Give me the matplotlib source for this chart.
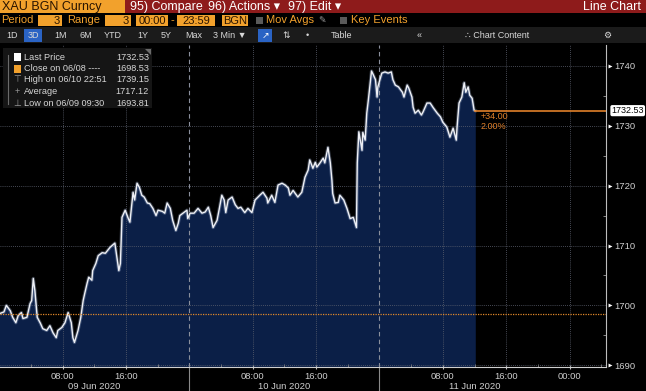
import matplotlib
matplotlib.use("Agg")
import matplotlib.pyplot as plt
import matplotlib.transforms as mtransforms
from matplotlib.patches import Rectangle, Polygon
from matplotlib.ticker import FixedLocator, MultipleLocator

plt.rcParams['font.family'] = ['Liberation Sans', 'DejaVu Sans']

# XAU BGN Curncy, 3-minute bars, hours counted from 09 Jun 2020 00:00
hours = [
    0.0, 0.6, 0.9, 1.4, 1.7, 2.1, 2.4, 2.8, 3.0, 3.5,
    3.9, 4.1, 4.3, 4.5, 4.8, 5.2, 5.5, 6.0, 6.4, 6.8,
    7.2, 7.4, 7.9, 8.3, 8.7, 9.1, 9.3, 9.5, 9.95, 10.3,
    10.6, 10.8, 11.1, 11.3, 11.7, 11.8, 12.2, 12.5, 13.0, 13.4,
    13.7, 14.0, 14.6, 15.1, 15.3, 15.5, 15.9, 16.3, 16.5, 16.9,
    17.1, 17.4, 17.7, 18.0, 18.3, 18.7, 19.0, 19.4, 19.8, 20.05,
    20.6, 20.9, 21.2, 21.6, 21.9, 22.3, 22.6, 22.8, 23.2, 23.7,
    23.8, 24.1, 24.6, 25.1, 25.6, 26.0, 26.4, 26.7, 27.0, 27.5,
    27.75, 28.1, 28.4, 28.6, 28.9, 29.4, 29.8, 30.15, 30.5, 31.0,
    31.4, 31.9, 32.3, 32.9, 33.3, 33.8, 33.9, 34.4, 34.8, 35.2,
    35.7, 36.1, 36.5, 36.7, 37.1, 37.7, 38.2, 38.6, 39.0, 39.2,
    39.6, 39.9, 40.1, 40.5, 40.9, 41.1, 41.5, 41.8, 42.0, 42.1,
    42.4, 42.8, 43.0, 43.5, 43.9, 44.3, 44.7, 45.1, 45.2, 45.4,
    45.8, 45.9, 46.2, 46.4, 46.6, 47.0, 47.2, 47.5, 47.7, 47.8,
    48.3, 48.7, 49.1, 49.5, 49.7, 50.0, 50.4, 50.9, 51.1, 51.5,
    51.7, 52.1, 52.25, 52.5, 52.9, 53.3, 53.5, 54.0, 54.4, 54.8,
    55.3, 55.7, 56.0, 56.5, 56.9, 57.3, 57.7, 57.8, 58.05, 58.4,
    58.7, 58.9, 59.2, 59.4, 59.7, 59.95, 60.1,
]
prices = [
    1698.6, 1698.9, 1700.0, 1699.1, 1698.0, 1697.1, 1698.3, 1698.8, 1697.8, 1698.0,
    1700.3, 1700.8, 1704.5, 1702.5, 1698.0, 1697.0, 1696.1, 1695.8, 1696.6, 1695.4,
    1694.6, 1695.8, 1696.3, 1697.1, 1698.8, 1697.1, 1694.6, 1693.8, 1695.8, 1698.0,
    1700.8, 1702.0, 1703.7, 1704.7, 1704.2, 1705.8, 1707.0, 1708.3, 1708.8, 1708.7,
    1709.2, 1709.7, 1710.4, 1705.8, 1707.0, 1714.7, 1715.9, 1714.5, 1713.9, 1718.9,
    1717.6, 1720.4, 1719.7, 1718.4, 1718.1, 1717.1, 1717.0, 1716.2, 1715.0, 1715.9,
    1715.7, 1715.4, 1717.1, 1716.2, 1714.2, 1712.5, 1713.7, 1715.0, 1715.4, 1715.9,
    1714.5, 1715.4, 1715.4, 1716.2, 1715.4, 1715.6, 1716.4, 1715.0, 1713.0, 1714.2,
    1715.9, 1718.4, 1717.6, 1715.5, 1717.6, 1718.1, 1716.8, 1716.2, 1716.4, 1715.5,
    1716.2, 1715.5, 1717.6, 1718.4, 1718.9, 1717.9, 1717.1, 1718.4, 1717.2, 1720.1,
    1720.4, 1720.1, 1719.6, 1718.4, 1719.2, 1718.1, 1718.9, 1721.4, 1722.6, 1724.3,
    1722.9, 1723.9, 1723.1, 1723.8, 1724.6, 1723.8, 1726.4, 1723.8, 1720.9, 1718.7,
    1717.1, 1717.2, 1718.4, 1717.6, 1716.2, 1714.5, 1714.7, 1713.0, 1723.8, 1729.0,
    1725.9, 1728.9, 1727.6, 1732.1, 1734.3, 1739.15, 1738.6, 1737.7, 1734.8, 1736.5,
    1738.8, 1739.0, 1738.8, 1739.0, 1737.7, 1736.8, 1736.5, 1735.6, 1734.8, 1736.8,
    1736.3, 1734.8, 1733.1, 1732.1, 1732.6, 1731.8, 1732.3, 1733.8, 1733.8, 1733.0,
    1732.1, 1731.5, 1730.6, 1729.8, 1728.1, 1729.6, 1727.6, 1729.8, 1733.8, 1734.8,
    1737.2, 1735.6, 1736.5, 1735.1, 1734.6, 1732.6, 1732.53,
]

last_price = 1732.53
prev_close = 1698.53
change_txt = "+34.00"
change_pct = "2.00%"

legend_rows = [
    ("Last Price", "1732.53"),
    ("Close on 06/08 ----", "1698.53"),
    ("High on 06/10 22:51", "1739.15"),
    ("Average", "1717.12"),
    ("Low on 06/09 09:30", "1693.81"),
]

time_ticks = [8, 16, 32, 40, 56, 64, 72]
time_labels = ["08:00", "16:00", "08:00", "16:00", "08:00", "16:00", "00:00"]
day_ticks = [12, 36, 60]
day_labels = ["09 Jun 2020", "10 Jun 2020", "11 Jun 2020"]
day_breaks = [24, 48]
y_ticks = [1690, 1700, 1710, 1720, 1730, 1740]

W, H = 646, 391
ORANGE = '#f2a12c'
RED = '#8e1b1b'
GREY_TXT = '#cfcfcf'


def fx(x):
    return x / W


def fy(y):
    return 1 - y / H


fig = plt.figure(figsize=(W / 100, H / 100), dpi=100, facecolor='black')


def box(x0, y0, x1, y1, color):
    fig.add_artist(Rectangle((fx(x0), fy(y1)), fx(x1) - fx(x0), fy(y0) - fy(y1),
                             transform=fig.transFigure, facecolor=color,
                             edgecolor='none', zorder=1))


def txt(x, y, s, color=GREY_TXT, size=6.5, ha='left', **kw):
    fig.text(fx(x), fy(y), s, color=color, fontsize=size, ha=ha, va='center',
             zorder=3, **kw)


# ---- header rows ----
box(0, 0, W, 13, RED)
box(0, 0, 125, 13, ORANGE)
txt(2, 7, "XAU BGN Curncy", color='#2a1400', size=9)
txt(130, 7, "95) Compare", color='white', size=9)
txt(208, 7, "96) Actions \u25be", color='white', size=9)
txt(288, 7, "97) Edit \u25be", color='white', size=9)
txt(641, 7, "Line Chart", color='white', size=9, ha='right')

box(0, 13, W, 27, 'black')
txt(1, 20, "Period", color=ORANGE, size=8)
for x0, x1, s in [(38, 62, "3"), (105, 131, "3")]:
    box(x0, 15, x1, 26, ORANGE)
    txt(x1 - 2, 20.5, s, color='#2a1400', size=8, ha='right')
txt(67, 20, "Range", color=ORANGE, size=8)
for x0, x1, s in [(136, 168, "00:00"), (177, 215, "23:59"), (222, 248, "BGN")]:
    box(x0, 15, x1, 26, ORANGE)
    txt((x0 + x1) / 2, 20.5, s, color='#2a1400', size=8, ha='center')
txt(172.5, 20, "-", color=ORANGE, size=8, ha='center')
box(256, 17, 263, 24, '#5a5a5a')
txt(266, 20, "Mov Avgs", color=ORANGE, size=8)
txt(318, 20, "\u270e", color='#9a9a9a', size=6.5, family=['DejaVu Sans'])
box(340, 17, 347, 24, '#5a5a5a')
txt(351, 20, "Key Events", color=ORANGE, size=8)

box(0, 27, W, 43, '#1b1b1b')
box(24, 29, 42, 42, '#2a63c4')
box(258, 29, 272, 42, '#2a63c4')
row3 = [(6, "1D"), (28, "3D"), (54, "1M"), (80, "6M"), (104, "YTD"), (137, "1Y"),
        (161, "5Y"), (185, "Max"), (213, "3 Min \u25bc"), (282, "\u21c5"), (306, "\u2022"),
        (331, "Table"), (417, "\u00ab"), (465, "\u2234 Chart Content"), (603, "\u2699")]
for x, s in row3:
    txt(x, 35.5, s, color='#d8d8d8', size=6.5)
txt(265, 35.5, "\u2197", color='white', size=6.5, ha='center', family=['DejaVu Sans'])

# ---- chart ----
ax = fig.add_axes([0, 1 - 367 / H, 606 / W, (367 - 45) / H])
ax.set_facecolor('black')
ax.set_xlim(0.1, 76.6)
ax.set_ylim(1689.7, 1743.5)

ax.fill_between(hours, prices, 1680, color='#0b1f47', lw=0, zorder=1)
ax.plot(hours, prices, color='#9fb0d0', lw=2.4, alpha=0.35, zorder=3)
ax.plot(hours, prices, color='#eef0f6', lw=1.0, zorder=4)

# grid
for yv in y_ticks:
    ax.axhline(yv, color='#5d6270', lw=0.6, ls=(0, (1, 1.5)), zorder=2)
for xv in [8, 16, 32, 40, 56, 64, 72]:
    ax.axvline(xv, color='#5d6270', lw=0.6, ls=(0, (1, 1.5)), zorder=2)
for xv in day_breaks:
    ax.axvline(xv, color='#8a8f9c', lw=0.8, ls=(0, (4, 3)), zorder=2)
    ax.plot([xv, xv], [-0.075, 0], transform=ax.get_xaxis_transform(),
            color='#8a8a8a', lw=0.8, clip_on=False)

# previous close & last price
ax.axhline(prev_close, color='#e0882a', lw=0.9, ls=(0, (1, 1)), zorder=5)
ax.plot([hours[-1], 76.6], [last_price, last_price], color='#e0802a', lw=1.2, zorder=5)
ax.text(hours[-1] + 0.7, last_price - 0.9, change_txt, color='#e0802a', fontsize=6.5,
        va='center', zorder=6)
ax.text(hours[-1] + 0.7, last_price - 2.6, change_pct, color='#e0802a', fontsize=6.5,
        va='center', zorder=6)

# axes styling
for s in ['top', 'left']:
    ax.spines[s].set_visible(False)
ax.spines['right'].set_color('#bdbdbd')
ax.spines['bottom'].set_color('#d0d0d0')
ax.spines['right'].set_linewidth(0.8)
ax.spines['bottom'].set_linewidth(0.8)

ax.yaxis.tick_right()
ax.yaxis.set_major_locator(FixedLocator(y_ticks))
ax.yaxis.set_minor_locator(MultipleLocator(5))
ax.tick_params(axis='y', which='major', length=0, pad=6, labelsize=6.8, labelcolor=GREY_TXT)
ax.tick_params(axis='y', which='minor', length=2, color='#9a9a9a', direction='in')
yt = mtransforms.blended_transform_factory(ax.transAxes, ax.transData)
ax.scatter([1.007] * len(y_ticks), y_ticks, marker='>', s=8, color='white',
           transform=yt, clip_on=False, zorder=6, lw=0)

ax.xaxis.set_major_locator(FixedLocator(time_ticks))
ax.set_xticklabels(time_labels)
ax.xaxis.set_minor_locator(MultipleLocator(4))
ax.tick_params(axis='x', which='major', length=3, direction='inout', color='#bdbdbd',
               pad=2, labelsize=6.8, labelcolor=GREY_TXT)
ax.tick_params(axis='x', which='minor', length=2, direction='in', color='#8a8a8a')
xt = ax.get_xaxis_transform()
for xv, s in zip(day_ticks, day_labels):
    ax.text(xv, -0.06, s, transform=xt, ha='center', va='center', fontsize=6.8,
            color=GREY_TXT, clip_on=False)

ax.text(1.009, last_price, "1732.53", transform=yt, ha='left', va='center',
        fontsize=6.5, color='black', clip_on=False, zorder=7,
        bbox=dict(boxstyle='round,pad=0.12,rounding_size=0.2', fc='white', ec='none'))

# ---- legend panel ----
box(3, 48, 152, 108, '#151515')
fig.add_artist(Polygon([(fx(145), fy(49)), (fx(151), fy(49)), (fx(151), fy(55))],
                       closed=True, transform=fig.transFigure, fc='#6a6a6a', ec='none', zorder=2))
fig.add_artist(plt.Line2D([fx(8), fx(8)], [fy(55), fy(104)], transform=fig.transFigure,
                          color='#6a6a6a', lw=0.8, zorder=2))
row_y = [57, 68.5, 80, 91.5, 103]
box(14, 53, 21, 61, 'white')
box(14, 64.5, 21, 72.5, ORANGE)
txt(17.5, 80, "\u22a4", color='#9a9a9a', size=6.5, ha='center', family=['DejaVu Sans'])
txt(17.5, 91.5, "+", color='#9a9a9a', size=6.5, ha='center')
txt(17.5, 103, "\u22a5", color='#9a9a9a', size=6.5, ha='center', family=['DejaVu Sans'])
for yy, (lab, val) in zip(row_y, legend_rows):
    txt(24, yy, lab, color='#d6d6d6', size=6.6)
    txt(149, yy, val, color='#d6d6d6', size=6.6, ha='right')

fig.savefig("out.png", dpi=100, facecolor='black')
